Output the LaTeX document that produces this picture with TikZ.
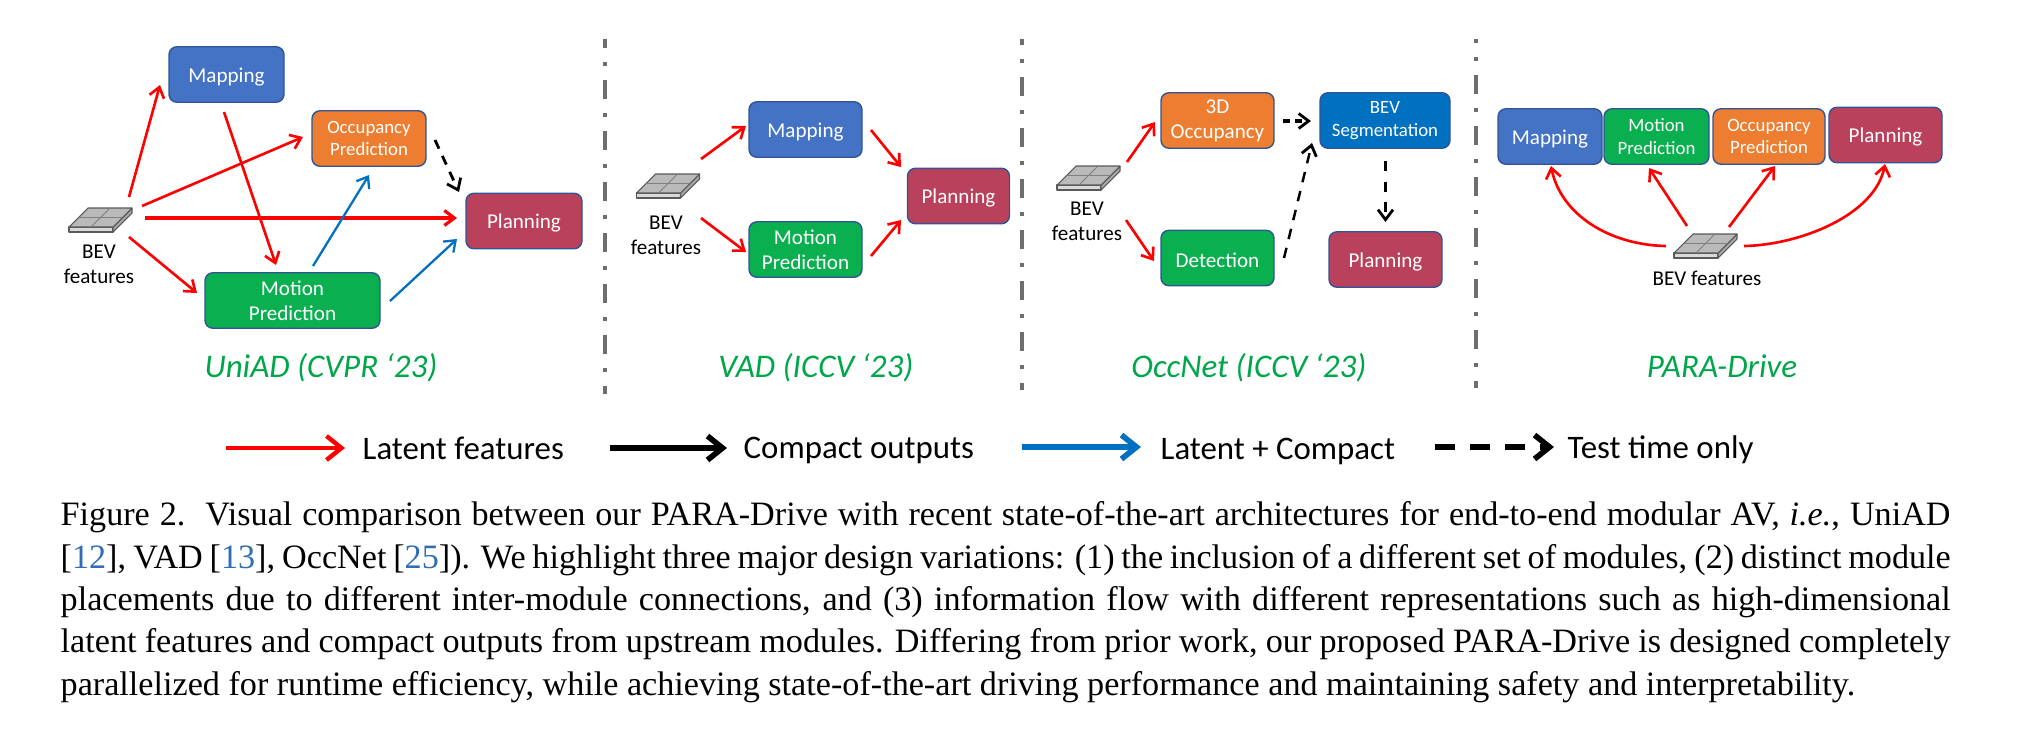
\documentclass[tikz,border=0pt]{standalone}
\usepackage{fontspec}
\setmainfont{Carlito}
\newfontfamily\capfont{Liberation Serif}
\usetikzlibrary{arrows.meta, calc}
\definecolor{mapblue}{HTML}{4472C4}
\definecolor{occorange}{HTML}{ED7D31}
\definecolor{motgreen}{HTML}{0AB050}
\definecolor{planred}{HTML}{B9415B}
\definecolor{segblue}{HTML}{0070C0}
\definecolor{edgeblue}{HTML}{2F5597}
\definecolor{latentred}{HTML}{FF0000}
\definecolor{bothblue}{HTML}{0070C0}
\definecolor{titlegreen}{HTML}{00A64A}
\definecolor{dividergray}{HTML}{6E6E6E}
\definecolor{citeblue}{HTML}{2F6EB5}
\tikzset{
	modbox/.style={draw=edgeblue, line width=.4pt, rounded corners=.8mm, minimum height=.555cm, inner sep=0pt, text=white, align=center, font=\fontsize{6}{7.1}\selectfont, execute at begin node={\rule{0pt}{5.4pt}}},
	smallbox/.style={modbox, font=\fontsize{5.35}{6.5}\selectfont},
	bevtext/.style={inner sep=0pt, align=center, font=\fontsize{6}{7.1}\selectfont},
	titletext/.style={inner sep=0pt, anchor=base, text=titlegreen, font=\fontsize{9.4}{11}\selectfont\itshape},
	legtext/.style={inner sep=0pt, anchor=base west, font=\fontsize{9.35}{11}\selectfont},
	latent/.style={draw=latentred, line width=.75pt, -{Straight Barb[length=1mm, width=1.5mm]}},
	both/.style={latent, draw=bothblue, line width=.65pt},
	testonly/.style={draw=black, line width=.8pt, dash pattern=on .95mm off .8mm, -{Straight Barb[length=1mm, width=1.5mm, line width=.8pt]}},
	legline/.style={line width=1.25pt, -{Straight Barb[length=1.5mm, width=2.4mm]}},
	divider/.style={draw=dividergray, line width=1.25pt},
	bevgrid/.pic={
		\draw[draw=black!65, fill=black!15, line width=.3pt, line join=round] (-31.5,7) -- (12.5,7) -- (12.5,12) -- (-31.5,12) -- cycle;
		\draw[draw=black!65, fill=black!35, line width=.3pt, line join=round] (12.5,7) -- (31.5,-12) -- (31.5,-7) -- (12.5,12) -- cycle;
		\draw[draw=black!65, fill=black!27, line width=.3pt, line join=round] (-12.5,-12) -- (31.5,-12) -- (12.5,7) -- (-31.5,7) -- cycle;
		\draw[draw=black!50, line width=.25pt] (9.5,-12) -- (-9.5,7) (-22,-2.5) -- (22,-2.5);
	}
}
\begin{document}
\begin{tikzpicture}[x=.1mm, y=-.1mm]
	\useasboundingbox (0,0) rectangle (2021,746);

	\coordinate (bev1) at (100.5,220);
	\pic at (bev1) {bevgrid};
	\node [bevtext] (bevlab1) at (99,264) {BEV\\features};
	\node [modbox, fill=mapblue, minimum width=1.15cm] (map1) at (226.5,74.5) {Mapping};
	\node [smallbox, fill=occorange, minimum width=1.14cm] (occ1) at (369,138.5) {Occupancy\\Prediction};
	\node [modbox, fill=planred, minimum width=1.16cm] (plan1) at (524,221) {Planning};
	\node [modbox, fill=motgreen, minimum width=1.75cm] (mot1) at (292.5,300.5) {Motion\\Prediction};
	\draw [latent] ($(bev1)+(28.5,-23)$) -- ($(map1)+(-66.5,10.5)$);
	\draw [latent] ($(bev1)+(41.5,-14)$) -- ($(occ1)+(-66,-1.5)$);
	\draw [latent, line width=.9pt] ($(bev1)+(44.5,-2)$) -- ($(plan1)+(-67,-3)$);
	\draw [latent] ($(bev1)+(28.5,17)$) -- ($(mot1)+(-95.5,-7.5)$);
	\draw [latent] ($(map1)+(-2.5,37.5)$) -- ($(mot1)+(-16.5,-35.5)$);
	\draw [both] ($(mot1)+(20.5,-34.5)$) -- ($(occ1)+(0,36.5)$);
	\draw [both] ($(mot1)+(97.5,.5)$) -- ($(plan1)+(-67,18)$);
	\draw [testonly] ($(occ1)+(66,1.5)$) -- ($(plan1)+(-65,-29)$);
	\node [titletext] (title1) at (321,377) {UniAD (CVPR ‘23)};

	\coordinate (divtop1) at (605,39);
	\coordinate (divend1) at (605,394);
	\draw [divider, dash pattern=on 1.9mm off 1.4mm on .4mm off 1.4mm, dash phase=1mm] (divtop1) -- (divend1);

	\coordinate (bev2) at (668,186);
	\pic at (bev2) {bevgrid};
	\node [bevtext] (bevlab2) at (666,235.5) {BEV\\features};
	\node [modbox, fill=mapblue, minimum width=1.13cm] (map2) at (805.5,129.5) {Mapping};
	\node [modbox, fill=motgreen, minimum width=1.13cm] (mot2) at (805.5,249.5) {Motion\\Prediction};
	\node [modbox, fill=planred, minimum width=1.02cm] (plan2) at (958.5,196) {Planning};
	\draw [latent] ($(bev2)+(33,-27)$) -- ($(map2)+(-59.5,-3.5)$);
	\draw [latent] ($(bev2)+(33,32)$) -- ($(mot2)+(-59.5,2.5)$);
	\draw [latent] ($(map2)+(65.5,.5)$) -- ($(plan2)+(-57.5,-29)$);
	\draw [latent] ($(mot2)+(65.5,6.5)$) -- ($(plan2)+(-57.5,24)$);
	\node [titletext] (title2) at (816,377) {VAD (ICCV ‘23)};

	\coordinate (divtop2) at (1022,39);
	\coordinate (divend2) at (1022,390);
	\draw [divider, dash pattern=on 1.9mm off 1.4mm on .4mm off 1.4mm, dash phase=1.3mm] (divtop2) -- (divend2);

	\coordinate (bev3) at (1088.5,178);
	\pic at (bev3) {bevgrid};
	\node [bevtext] (bevlab3) at (1087,221.5) {BEV\\features};
	\node [modbox, fill=occorange, minimum width=1.13cm] (occ3) at (1217.5,120.5) {3D\\Occupancy};
	\node [smallbox, fill=segblue, minimum width=1.3cm] (seg3) at (1385,120.5) {BEV\\Segmentation};
	\node [modbox, fill=motgreen, minimum width=1.13cm] (det3) at (1217.5,258) {Detection};
	\node [modbox, fill=planred, minimum width=1.13cm] (plan3) at (1385.5,259.5) {Planning};
	\draw [latent] ($(bev3)+(38.5,-16)$) -- ($(occ3)+(-62.5,1.5)$);
	\draw [latent] ($(bev3)+(37.5,42)$) -- ($(det3)+(-63.5,3)$);
	\draw [testonly, line width=1.1pt, dash pattern=on .7mm off .5mm] ($(occ3)+(65.5,.5)$) -- ($(seg3)+(-74,.5)$);
	\draw [testonly, line width=.7pt, dash pattern=on 1.05mm off .9mm] ($(det3)+(66.5,0)$) -- ($(seg3)+(-73,22.5)$);
	\draw [testonly, line width=.6pt, dash pattern=on 1mm off 1.05mm] ($(seg3)+(.5,40.5)$) -- ($(plan3)+(0,-37.5)$);
	\node [titletext] (title3) at (1249,377) {OccNet (ICCV ‘23)};

	\coordinate (divtop3) at (1476,39);
	\coordinate (divend3) at (1476,388);
	\draw [divider, dash pattern=on 1.9mm off 1.4mm on .4mm off 1.4mm, dash phase=1.5mm] (divtop3) -- (divend3);

	\coordinate (bev4) at (1705.5,246);
	\pic at (bev4) {bevgrid};
	\node [bevtext] (bevlab4) at (1707,278) {BEV features};
	\node [modbox, fill=mapblue, minimum width=1.04cm] (map4) at (1550,136.5) {Mapping};
	\node [smallbox, fill=motgreen, minimum width=1.05cm] (mot4) at (1656.5,136.5) {Motion\\Prediction};
	\node [smallbox, fill=occorange, minimum width=1.12cm] (occ4) at (1769,136.5) {Occupancy\\Prediction};
	\node [modbox, fill=planred, minimum width=1.13cm] (plan4) at (1885.5,135) {Planning};
	\draw [latent] ($(bev4)+(-39.5,0)$) .. controls (1610,245) and (1561,215) .. ($(map4)+(1,29.5)$);
	\draw [latent] ($(bev4)+(-18.5,-20)$) -- ($(mot4)+(-7.5,31.5)$);
	\draw [latent] ($(bev4)+(23.5,-19)$) -- ($(occ4)+(6,29.5)$);
	\draw [latent] ($(bev4)+(38.5,0)$) .. controls (1800,245) and (1875,215) .. ($(plan4)+(-.5,29)$);
	\node [titletext] (title4) at (1722,377) {PARA-Drive};

	\coordinate (legred) at (226,448);
	\coordinate (legredend) at (345,448);
	\draw [legline, draw=latentred] (legred) -- (legredend);
	\node [legtext] (legtext1) at (362,459) {Latent features};
	\coordinate (legblack) at (610,448);
	\coordinate (legblackend) at (727,448);
	\draw [legline, draw=black, line width=1.6pt] (legblack) -- (legblackend);
	\node [legtext] (legtext2) at (743,458) {Compact outputs};
	\coordinate (legblue) at (1022,447);
	\coordinate (legblueend) at (1141,447);
	\draw [legline, draw=bothblue, line width=1.6pt] (legblue) -- (legblueend);
	\node [legtext] (legtext3) at (1160,459) {Latent + Compact};
	\coordinate (legdash) at (1435,447);
	\coordinate (legdashend) at (1554,447);
	\draw [legline, draw=black, line width=1.6pt, dash pattern=on 2mm off 1.5mm] (legdash) -- (legdashend);
	\node [legtext] (legtext4) at (1567,458) {Test time only};

	\node [anchor=north west, inner sep=0pt, text width=18.9cm, align=justify, font=\capfont\fontsize{9.72}{12.05}\selectfont] (caption) at (60,501) {Figure 2.\ \ Visual comparison between our PARA-Drive with recent state-of-the-art architectures for end-to-end modular AV, \textit{i.e.}, UniAD\linebreak[4]
	{[}\textcolor{citeblue}{12}], VAD [\textcolor{citeblue}{13}], OccNet [\textcolor{citeblue}{25}]). We highlight three major design variations: (1) the inclusion of a different set of modules, (2) distinct module\linebreak[4]
	placements due to different inter-module connections, and (3) information flow with different representations such as high-dimensional\linebreak[4]
	latent features and compact outputs from upstream modules. Differing from prior work, our proposed PARA-Drive is designed completely\linebreak[4]
	parallelized for runtime efficiency, while achieving state-of-the-art driving performance and maintaining safety and interpretability.};
\end{tikzpicture}
\end{document}
